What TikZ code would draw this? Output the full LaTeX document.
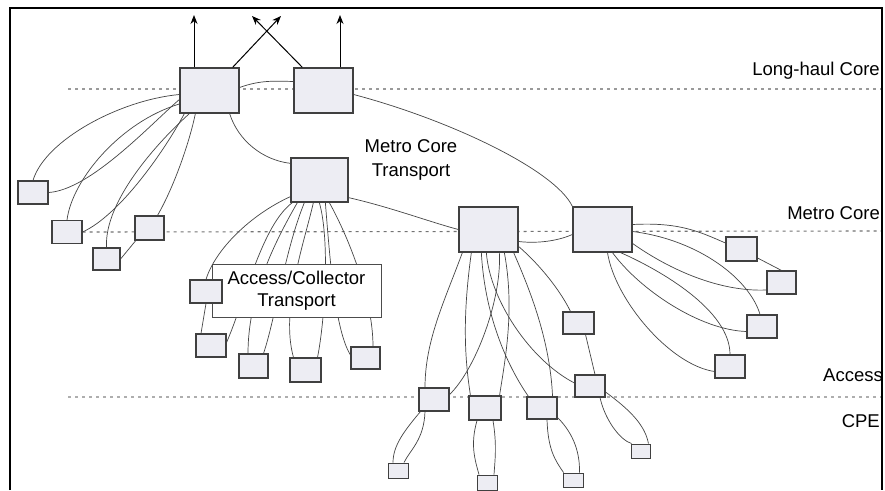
\documentclass[tikz,border=0pt]{standalone}
\usepackage{fontspec}
\setmainfont{Liberation Sans}
\usetikzlibrary{arrows.meta}
\definecolor{boxfill}{HTML}{EDEDF3}
\definecolor{linkgray}{HTML}{454545}
\definecolor{layergray}{HTML}{9A9A9A}
\pgfdeclarelayer{bg}
\pgfsetlayers{bg,main}
\begin{document}
\begin{tikzpicture}[x=1pt,y=-1pt,
  unit/.style={draw=black!75, fill=boxfill, line width=1.1pt, inner sep=0pt, rectangle},
  bigunit/.style={unit, minimum width=59pt, minimum height=45pt, line width=1.3pt},
  smallunit/.style={unit, minimum width=30pt, minimum height=23pt},
  tinyunit/.style={unit, minimum width=20pt, minimum height=15pt, line width=0.9pt},
  link/.style={draw=linkgray, line width=0.7pt},
  uplink/.style={draw=black, line width=1pt, -{Stealth[length=9pt,width=7pt]}},
  layer/.style={draw=layergray, line width=1.1pt, dash pattern=on 3pt off 4pt},
  layerlabel/.style={anchor=east, font=\fontsize{18.5}{22}\selectfont, inner sep=0pt},
  tierlabel/.style={align=center, font=\fontsize{18.5}{24}\selectfont, inner sep=0pt},
]
\useasboundingbox (0,0) rectangle (885,490);

% ---------- equipment boxes ----------
% long-haul core
\node[bigunit] (LH1) at (209.5,90.5) {};
\node[bigunit] (LH2) at (323.5,90.5) {};
% metro core
\node[bigunit, minimum width=57pt, minimum height=44pt] (MCT) at (319.5,180) {};
\node[bigunit] (MC1) at (488.5,229.5) {};
\node[bigunit] (MC2) at (602.5,229.5) {};
% left-hand access units
\node[smallunit] (L1) at (33,192.5) {};
\node[smallunit] (L2) at (67,232) {};
\node[smallunit, minimum width=29pt, minimum height=24pt] (L3) at (149.5,228) {};
\node[smallunit, minimum width=27pt, minimum height=22pt] (L4) at (106.5,259) {};
% access/collector ring
\node[draw=black!70, fill=white, line width=0.9pt, minimum width=169pt, minimum height=53pt,
      inner sep=0pt, tierlabel, font=\fontsize{18.5}{22}\selectfont] (AC) at (296.5,290.5)
      {Access/Collector\\Transport};
\node[smallunit, minimum width=32pt] (A1) at (206,291.5) {};
\node[smallunit] (A2) at (211,345.5) {};
\node[smallunit, minimum width=29pt, minimum height=24pt] (A3) at (253.5,366) {};
\node[smallunit, minimum width=31pt, minimum height=24pt] (A4) at (305.5,370) {};
\node[smallunit, minimum width=29pt, minimum height=22pt] (A5) at (365.5,358) {};
% access units below MC1
\node[smallunit] (C1) at (434,399.5) {};
\node[smallunit, minimum width=32pt, minimum height=24pt] (C2) at (485,408) {};
\node[smallunit, minimum height=22pt] (C3) at (542,408) {};
\node[smallunit, minimum width=31pt, minimum height=22pt] (C4) at (578.5,323) {};
\node[smallunit, minimum height=22pt] (C5) at (590,386) {};
% customer premises units
\node[tinyunit] (D1) at (398,470.5) {};
\node[tinyunit] (D2) at (487,482.5) {};
\node[tinyunit, minimum height=14pt] (D3) at (573,480) {};
\node[tinyunit, minimum width=19pt, minimum height=14pt] (D4) at (640.5,451) {};
% access units right of MC2
\node[smallunit, minimum width=31pt, minimum height=24pt] (E1) at (741.5,249) {};
\node[smallunit, minimum width=29pt] (E2) at (781.5,282.5) {};
\node[smallunit] (E3) at (762,326.5) {};
\node[smallunit] (E4) at (730,366.5) {};

% ---------- tier labels ----------
\node[layerlabel] (lLH) at (880,71) {Long-haul Core};
\node[layerlabel] (lMC) at (880,213) {Metro Core};
\node[layerlabel] (lAC) at (883,375) {Access};
\node[layerlabel] (lCPE) at (880,421) {CPE};
\node[tierlabel] (lMCT) at (411,160) {Metro Core\\Transport};

% ---------- uplinks leaving the long-haul core ----------
\coordinate (t1) at (194,15);
\coordinate (t2) at (340,15);
\coordinate (t3) at (281,16);
\coordinate (t4) at (252,16);
\draw[uplink] (LH1.north -| t1) -- (t1);
\draw[uplink] (LH2.north -| t2) -- (t2);
\draw[uplink] ([xshift=-7pt]LH1.north east) -- (t3);
\draw[uplink] ([xshift=9pt]LH2.north west) -- (t4);

% frame
\draw[black, line width=1.3pt] (10,490) -- (10,8) -- (882,8) -- (882,490);

\begin{pgfonlayer}{bg}
\fill[white] (0,0) rectangle (885,490);
% tier boundaries
\draw[layer] (68,89) -- (882,89);
\draw[layer, draw=black!55] (L2.east) -- (882,231);
\draw[layer, draw=layergray!80] (68,397) -- (882,397);

% long-haul core
\draw[link] ([yshift=3pt]LH1.east) .. controls (260,80) and (275,81) .. ([yshift=9pt]LH2.west);
\draw[link] ([xshift=-10pt]LH1.south east) .. controls (238,140) and (262,160) .. ([yshift=-6pt]MCT.north west);
\draw[link] ([yshift=-4pt]LH2.east) .. controls (450,120) and (555,170) .. (MC2.north west);

% LH1 to the left-hand access units
\draw[link] ([yshift=-4pt]LH1.west) .. controls (120,100) and (45,140) .. (L1.north);
\draw[link] (L1.east) .. controls (90,190) and (150,125) .. ([yshift=-9pt]LH1.west);
\draw[link] (L2.north) .. controls (72,180) and (120,122) .. ([yshift=-13.5pt]LH1.west);
\draw[link] (L2.east) .. controls (120,215) and (165,150) .. ([xshift=5pt]LH1.south west);
\draw[link] (L4.north) .. controls (104,200) and (160,140) .. ([xshift=10pt]LH1.south west);
\draw[link] ([xshift=8pt]L3.north) .. controls (175,185) and (190,140) .. ([xshift=16pt]LH1.south west);
\draw[link] (L4.east) -- ([xshift=3pt,yshift=2pt]L3.south west);

% metro core
\draw[link] ([yshift=5pt]MCT.south east) .. controls (390,207) and (430,222) .. (MC1.west);
\draw[link] ([yshift=-12pt]MC1.east) .. controls (540,244) and (560,240) .. ([yshift=-5pt]MC2.west);

% MCT down to the collector ring units
\draw[link] ([yshift=6pt]MCT.south west) .. controls (250,215) and (215,250) .. (A1.north);
\draw[link] ([xshift=2pt]MCT.south west) .. controls (262,225) and (245,300) .. ([yshift=3pt]A2.east);
\draw[link] ([xshift=7pt]MCT.south west) .. controls (270,250) and (248,300) .. ([xshift=-5.5pt]A3.north);
\draw[link] ([xshift=14pt]MCT.south west) .. controls (285,250) and (275,320) .. ([xshift=10pt]A3.north);
\draw[link] ([xshift=23pt]MCT.south west) .. controls (305,240) and (280,310) .. ([xshift=-12pt]A4.north);
\draw[link] ([xshift=29pt]MCT.south west) .. controls (330,240) and (325,320) .. ([xshift=12pt]A4.north);
\draw[link] ([xshift=35pt]MCT.south west) .. controls (330,260) and (335,330) .. ([yshift=3pt]A5.west);
\draw[link] ([xshift=39pt]MCT.south west) .. controls (350,240) and (373,300) .. ([xshift=7.5pt]A5.north);
\draw[link] (A1.south) -- ([xshift=-10pt]A2.north);

% MC1 to its access units
\draw[link] ([xshift=4pt]MC1.south west) .. controls (445,300) and (425,340) .. ([xshift=-9pt]C1.north);
\draw[link] ([xshift=13pt]MC1.south west) .. controls (462,320) and (465,360) .. ([xshift=2pt]C2.north west);
\draw[link] ([xshift=23pt]MC1.south west) .. controls (485,320) and (510,370) .. ([xshift=2pt]C3.north west);
\draw[link] ([xshift=41pt]MC1.south west) .. controls (502,300) and (475,370) .. ([yshift=5pt]C1.east);
\draw[link] ([xshift=46pt]MC1.south west) .. controls (515,310) and (505,360) .. ([xshift=-2pt]C2.north east);
\draw[link] ([xshift=28pt]MC1.south west) .. controls (490,300) and (530,360) .. ([yshift=3pt]C5.west);
\draw[link] ([xshift=-5pt]MC1.south east) .. controls (530,290) and (550,340) .. ([xshift=-5pt]C3.north east);
\draw[link] ([yshift=-17pt]MC1.east) .. controls (540,265) and (560,290) .. ([xshift=-8pt]C4.north);
\draw[link] ([xshift=7pt]C4.south) -- ([xshift=5pt]C5.north);

% access units down to the customer premises
\draw[link] ([xshift=2pt]C1.south west) .. controls (405,430) and (393,445) .. ([xshift=-5pt]D1.north);
\draw[link] ([xshift=-9pt]C1.south) .. controls (424,440) and (410,450) .. ([xshift=6pt]D1.north);
\draw[link] ([xshift=-8pt]C2.south) .. controls (470,445) and (475,460) .. ([xshift=-8pt]D2.north);
\draw[link] ([xshift=8pt]C2.south) .. controls (497,445) and (495,460) .. ([xshift=7pt]D2.north);
\draw[link] ([xshift=5pt]C3.south) .. controls (548,450) and (555,460) .. ([xshift=1pt]D3.north west);
\draw[link] ([yshift=2pt]C3.south east) .. controls (575,435) and (580,455) .. ([xshift=-4pt]D3.north east);
\draw[link] ([xshift=10pt]C5.south) .. controls (605,420) and (620,440) .. ([xshift=1pt]D4.north west);
\draw[link] ([yshift=-6pt]C5.east) .. controls (630,410) and (645,425) .. ([xshift=-2pt]D4.north east);

% MC2 to its access units
\draw[link] ([yshift=5pt]MC2.east) .. controls (680,222) and (700,232) .. ([yshift=6pt]E1.west);
\draw[link] ([yshift=-9pt]E1.east) -- (E2.north);
\draw[link] ([yshift=-2pt]MC2.east) .. controls (700,240) and (750,280) .. ([xshift=-2pt]E3.north);
\draw[link] ([yshift=-14pt]MC2.east) .. controls (670,270) and (720,292) .. ([yshift=-7.5pt]E2.west);
\draw[link] ([xshift=-12pt]MC2.south east) .. controls (660,270) and (730,310) .. (E4.north);
\draw[link] ([xshift=10pt]MC2.south) .. controls (640,290) and (700,330) .. ([yshift=-5pt]E3.west);
\draw[link] ([xshift=5pt]MC2.south) .. controls (615,300) and (670,365) .. ([yshift=-5pt]E4.west);
\end{pgfonlayer}
\end{tikzpicture}
\end{document}
